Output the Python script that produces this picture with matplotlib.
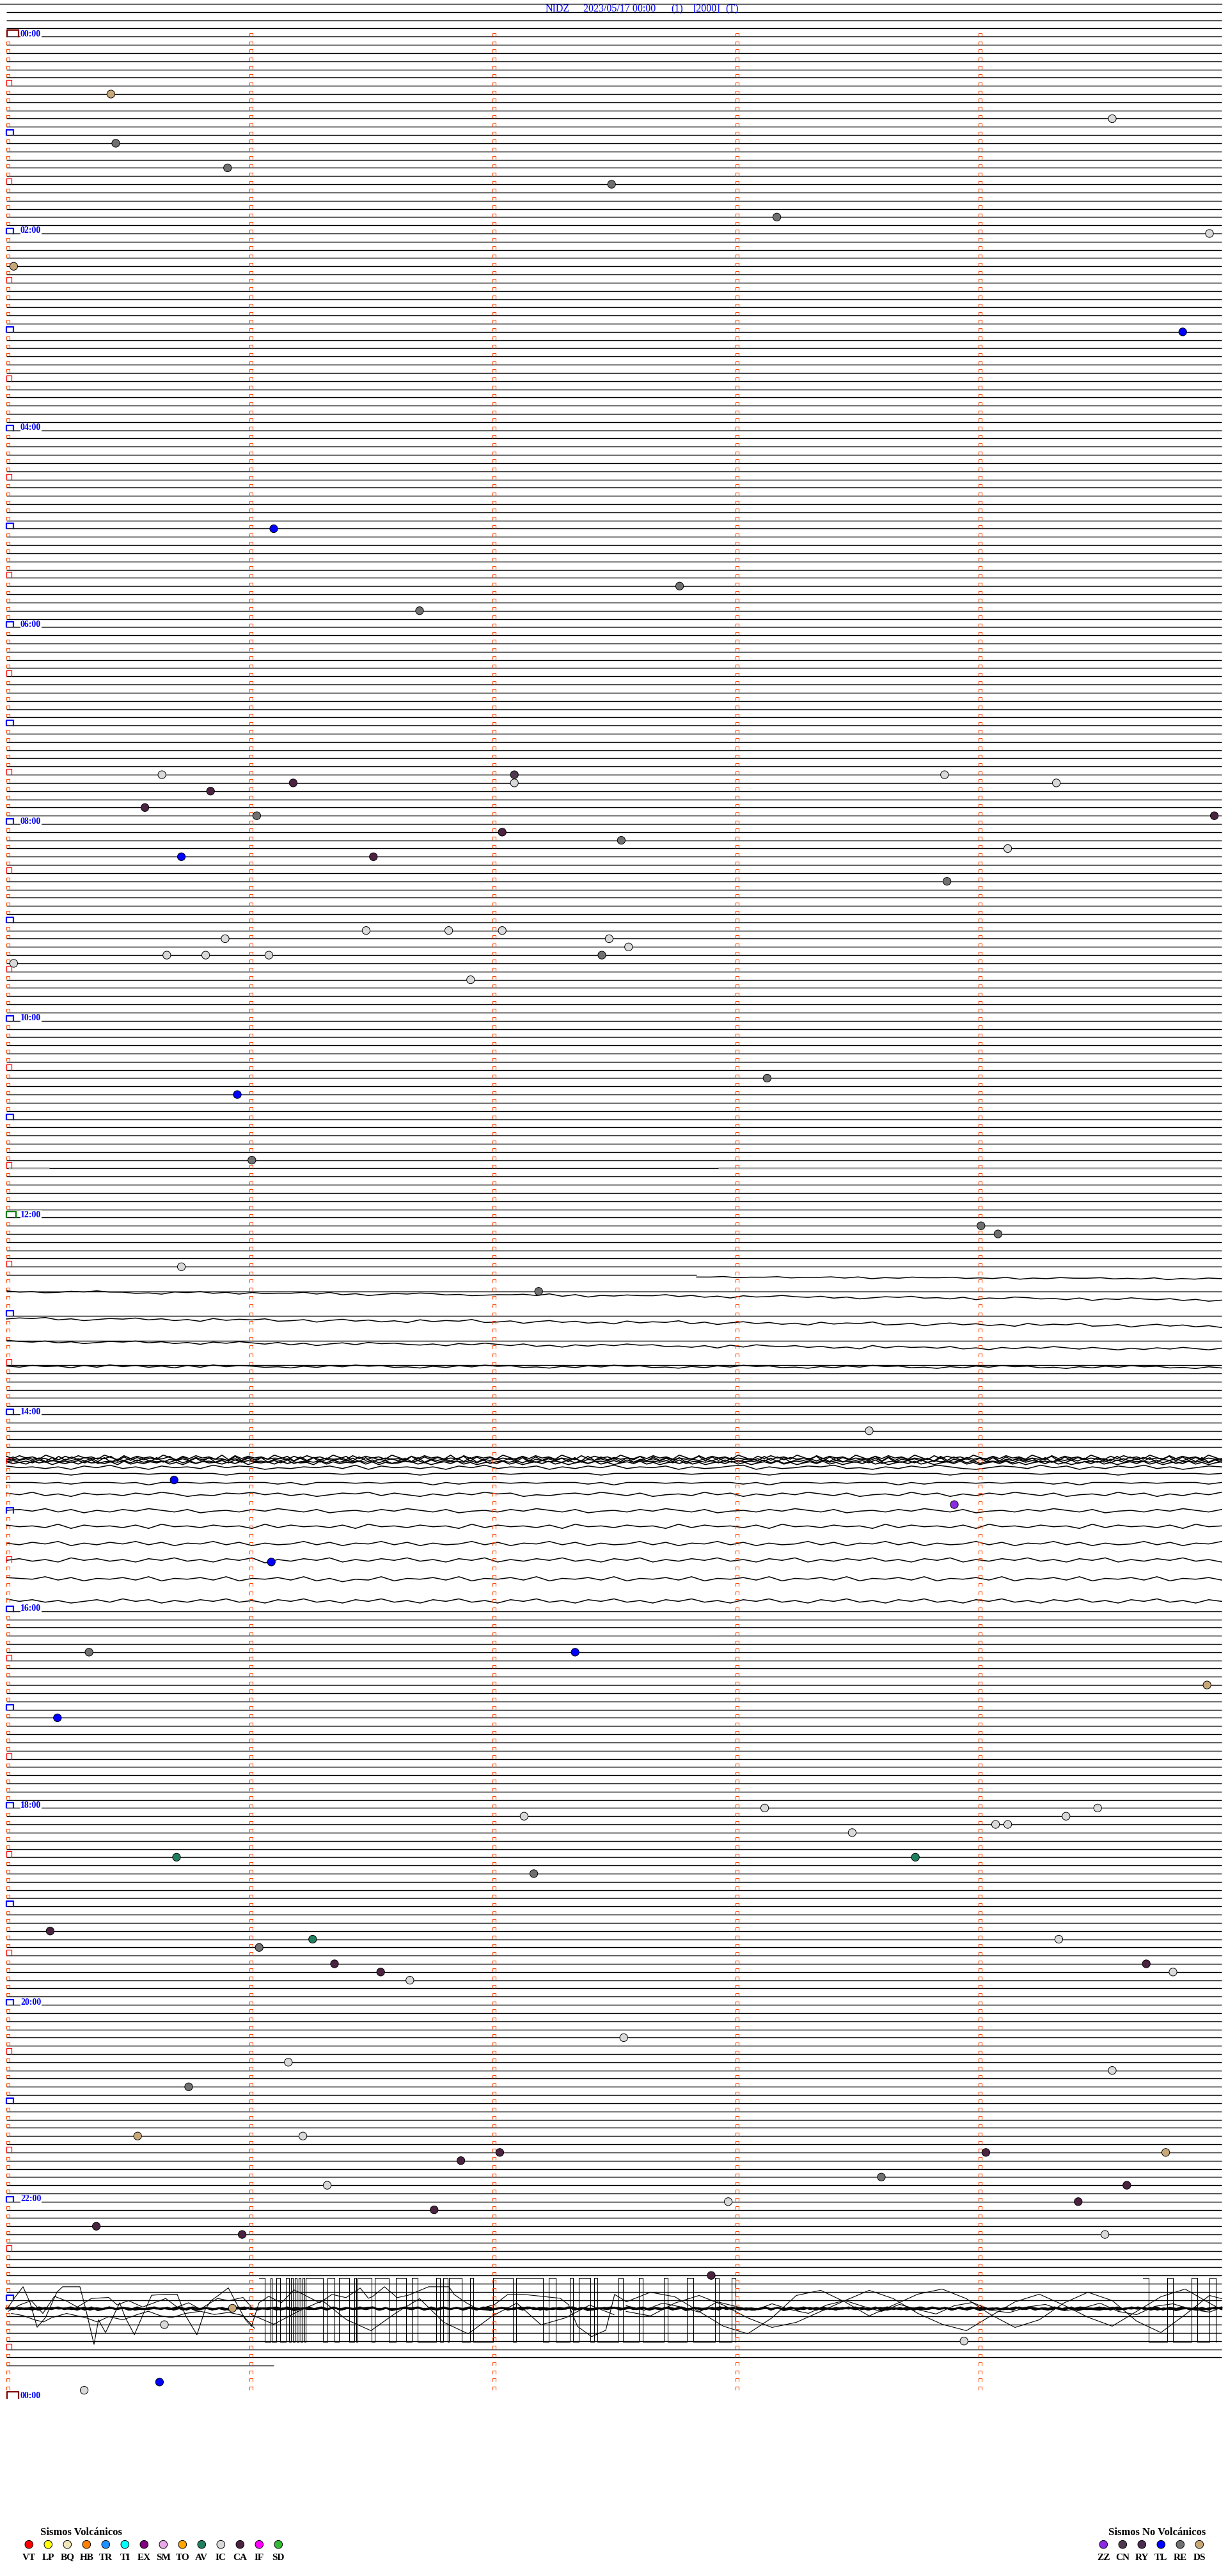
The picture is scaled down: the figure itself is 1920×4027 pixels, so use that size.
import numpy as np
import matplotlib
matplotlib.use("Agg")
import matplotlib.pyplot as plt
from matplotlib.collections import LineCollection

# ---------------- data ----------------
station = "NIDZ"
date_str = "2023/05/17 00:00"
title_extra = ["(1)", "[2000]", "(T)"]
hour_labels = ["00:00", "02:00", "04:00", "06:00", "08:00", "10:00",
               "12:00", "14:00", "16:00", "18:00", "20:00", "22:00", "00:00"]
minutes_per_row = 5
data_end_min = 1421.1

volc_title = "Sismos Volcánicos"
volc_codes = ["VT", "LP", "BQ", "HB", "TR", "TI", "EX", "SM", "TO", "AV", "IC", "CA", "IF", "SD"]
volc_colors = ["#FF0000", "#FFFF00", "#F2E6B8", "#FF8000", "#1E90FF", "#00FFFF", "#800080",
               "#E8A8E8", "#FFA500", "#1F7F5F", "#D9D9D9", "#4B2240", "#FF00FF", "#33BB33"]
nov_title = "Sismos No Volcánicos"
nov_codes = ["ZZ", "CN", "RY", "TL", "RE", "DS"]
nov_colors = ["#8A2BE2", "#503850", "#4B2D4F", "#0000FF", "#707070", "#C8A878"]

# event times (minutes after 00:00) and types
ev_min = [35.43, 54.55, 65.45, 80.91, 92.49, 113.17, 124.95, 140.03, 184.84, 301.10,
          337.77, 351.70, 450.64, 452.09, 453.86, 456.18, 457.09, 459.32, 460.84, 470.57,
          476.03, 479.97, 487.04, 492.53, 499.12, 500.72, 501.51, 518.87, 546.48, 546.82,
          547.04, 550.90, 552.48, 557.56, 560.66, 560.82, 561.08, 562.45, 565.03, 576.91,
          638.13, 645.95, 686.01, 729.01, 734.08, 750.72, 767.19, 853.55, 880.69, 898.90,
          931.09, 985.34, 987.34, 1009.94, 1025.21, 1087.13, 1083.12, 1084.49, 1094.07, 1094.12,
          1089.36, 1098.48, 1110.70, 1113.74, 1122.17, 1155.18, 1161.26, 1164.33, 1166.04, 1176.35,
          1179.69, 1181.54, 1184.80, 1186.66, 1222.54, 1236.16, 1244.55, 1250.75, 1280.54, 1281.22,
          1292.03, 1294.03, 1294.77, 1296.87, 1308.60, 1314.61, 1311.32, 1322.97, 1324.41, 1326.76,
          1335.37, 1340.97, 1344.52, 1367.90, 1385.93, 1395.65, 1408.94, 1430.63, 1435.32]
ev_type = ["DS", "IC", "RE", "RE", "RE", "RE", "IC", "DS", "TL", "TL",
           "RE", "RE", "IC", "CN", "IC", "CA", "IC", "IC", "CA", "CA",
           "RE", "CA", "CA", "RE", "IC", "TL", "CA", "RE", "IC", "IC",
           "IC", "IC", "IC", "IC", "IC", "IC", "IC", "RE", "IC", "IC",
           "RE", "TL", "RE", "RE", "RE", "IC", "RE", "IC", "TL", "ZZ",
           "TL", "RE", "TL", "DS", "TL", "IC", "IC", "IC", "IC", "IC",
           "IC", "IC", "AV", "AV", "RE", "CA", "AV", "IC", "RE", "CA",
           "CA", "CA", "IC", "IC", "IC", "IC", "IC", "RE", "DS", "IC",
           "CA", "CA", "DS", "CA", "RE", "CA", "IC", "IC", "CA", "CA",
           "CA", "CA", "IC", "CA", "DS", "IC", "IC", "TL", "IC"]

# rows (5-min slots) without a flat trace line
missing_rows = [152, 154, 155, 157, 158, 160, 161] + list(range(173, 192))
row151_flat_end = 0.568
# grey (gap) segments: (row, frac start, frac end)
gap_segments = [(138, 0.0016, 0.0353), (138, 0.586, 1.0), (195, 0.407, 0.586)]

# wavy traces: (row at start, row at end, frac start, frac end, amplitude digits)
wavy_A = [
    (151.25, 151.45, 0.568, 1.0, "5546554655464756455465647564554656475645"),
    (153.0, 154.0, 0.0, 1.0, "46576453557684536474655363758645346576554637485645536475846535647586453657485634657485635647586"),
    (156.3, 157.2, 0.0, 1.0, "64537586453647583645376485364758364527648536475836452748536475836452764853647583645276485364758"),
    (159.1, 160.0, 0.0, 1.0, "35647586453647584635748596473546758463574869574635476859473564758693746574869574635746857463574"),
    (162.1, 162.2, 0.0, 1.0, "57465847364758473645768574635476857463547685746354768574635476857463547685746354768574635476857"),
]
wavy_B = [
    (174.4, 174.4, "46575846375846573645867564738465758463756485746375648576438576453768574635786457364857463758645"),
    (175.2, 175.2, "55555755555655555755555555655555755555565555557555555655555755555556555557555555655555755555565"),
    (176.3, 176.3, "55565755565855565655575855565655585755565655575855565655575855565655585755565655575855565655575"),
    (177.7, 177.7, "46375846574635867453647586453746857463548675463574865736485746357486573648574635748657364857463"),
    (179.7, 179.7, "54637485746357486574635748657463574865746357486574635748657463574865746357486574635748657463574"),
    (181.6, 181.6, "46573846574836574658374657483657465837465748365746583746574836574658374657483657465837465748365"),
    (183.7, 183.7, "57463857463748563748576374856374857637485637485763748563748576374856374857637485637485763748563"),
    (185.7, 185.7, "64758364758463758463957463857463758463857463758463857463758463857463758463857463758463857463758"),
    (188.0, 188.0, "45637485647385647385647385967385647385647385647385647385647385647385647385647385647385647385647"),
    (190.7, 190.7, "36475864736485746375846375846375846375846375846375846375846375846375846375846375846375846375846"),
]
dense_rows = [173.25, 173.4, 173.55, 173.7, 173.85]
dense_B = ["3726481593726481592736481593726481927364815937264815927364815937264819273648159372648159273648159372648159273648159372648159273648159372648159273648159372648159273648159372648159273648159",
           "8273645918273645192837465192837465918273645192837465192837465918273645192837465192837465918273645192837465192837465918273645192837465192837465918273645192837465192837465918273645192837465",
           "5463728194637281946372819463728194637281946372819463728194637281946372819463728194637281946372819463728194637281946372819463728194637281946372819463728194637281946372819463728194637281946",
           "6475837465748396574837465738496574837465748396574837465738496574837465748396574837465738496574837465748396574837465738496574837465748396574837465738496574837465748396574837465738496574837",
           "4758364957483657493857463859473658473956483746593847563849576348596473859647385964738596473859647385964738596473859647385964738596473859647385964738596473859647385964738596473859647385964"]

# 23:00 disturbance (row 277 as reference); x as fraction of row, y offset in px
band_row = 277
band_C = ["4657584637584657364586756473846575846375648574637564857643857645376857463578645736485746375864546575846375846573645867564738465758463756485746375648576438576453768574635786457364857463758645",
          "5746385746374856374857637485637485763748563748576374856374857637485637485763748563748576374856357463857463748563748576374856374857637485637485763748563748576374856374857637485637485763748563",
          "6475837465748396574837465738496574837465748396574837465738496574837465748396574837465738496574837465748396574837465738496574837465748396574837465738496574837465748396574837465738496574837"]
swing_C = [
    ([0.0005, 0.0063, 0.0137, 0.0195, 0.0253, 0.0321, 0.0416, 0.0463, 0.0605, 0.0653, 0.0721, 0.0758,
      0.0816, 0.0932, 0.0979, 0.1053, 0.1121, 0.1195, 0.1311, 0.1405, 0.1474, 0.1568, 0.1637, 0.1684,
      0.1758, 0.1826, 0.1900, 0.1968, 0.2016],
     [1.4, -15.3, -33.6, -8.6, 29.7, 14.7, -25.3, -33.6, -33.6, 1.4, 56.4, 18.1, 38.1, -8.6, 14.7,
      41.4, 11.4, -20.3, -21.9, -21.9, 11.4, 41.4, 1.4, -11.9, -21.9, -31.9, -5.3, 18.1, 28.1]),
    ([0.0016, 0.0111, 0.0205, 0.0300, 0.0395, 0.0489, 0.0584, 0.0700, 0.0842, 0.0911, 0.1005, 0.1121,
      0.1216, 0.1311, 0.1405, 0.1500, 0.1595, 0.1737, 0.1832, 0.1947, 0.2016],
     [4.7, -5.3, -11.9, 8.1, -18.6, -11.9, -1.9, -15.3, -16.9, -5.3, -11.9, -1.9, -8.6, -15.3, -1.9,
      -8.6, 1.4, -15.3, -11.9, -16.9, -1.9]),
    ([0.0042, 0.0137, 0.0232, 0.0305, 0.0374, 0.0495, 0.0653, 0.0747, 0.0842, 0.0958, 0.1079, 0.1168,
      0.1263, 0.1358, 0.1474, 0.1595, 0.1711, 0.1832, 0.1947, 0.2042],
     [8.1, 11.4, 18.1, 21.4, 14.7, 8.1, 14.7, 21.4, 13.1, 18.1, 9.7, 4.7, 11.4, 14.7, 8.1, 4.7, 9.7,
      6.4, 11.4, 31.4]),
    ([0.2016, 0.2079, 0.2158, 0.2263, 0.2368, 0.2474, 0.2579, 0.2679, 0.2795, 0.2911, 0.2979, 0.3016,
      0.3111, 0.3216, 0.3311, 0.3474, 0.3642, 0.3684, 0.3784, 0.3879, 0.4016, 0.4126, 0.4258, 0.4558,
      0.4626, 0.4700, 0.4816, 0.4932, 0.5005, 0.5100],
     [28.4, -8.6, -18.6, -8.6, -28.6, -18.6, -8.6, -21.6, -16.6, -31.6, -15.6, -18.6, -33.6, -16.6,
      -20.6, -33.6, -33.6, -21.6, -8.6, 1.4, -5.6, -21.6, -21.6, -15.6, -5.6, 28.4, 44.4, 34.4, -21.6, -10.6]),
    ([0.2016, 0.2200, 0.2400, 0.2600, 0.2800, 0.3000, 0.3200, 0.3400, 0.3600, 0.3800, 0.4000, 0.4200,
      0.4400, 0.4600, 0.4800, 0.5000],
     [10, 25, 5, -12, 18, 35, 8, -15, 22, 40, 12, -8, 26, 15, -5, 10]),
    ([0.51, 0.53, 0.55, 0.57, 0.59, 0.61, 0.63, 0.65, 0.67, 0.69, 0.71, 0.73, 0.75, 0.77, 0.79,
      0.81, 0.83, 0.85, 0.87, 0.89, 0.91, 0.93, 0.95, 0.97, 0.99, 1.0],
     [-10, -25, -18, 5, 28, 40, 15, -20, -28, -10, 12, -5, -22, -30, -15, 10, 30, 18, -8, -25, -12,
      20, 38, 10, -20, -15]),
    ([0.51, 0.53, 0.55, 0.57, 0.59, 0.61, 0.63, 0.65, 0.67, 0.69, 0.71, 0.73, 0.75, 0.77, 0.79,
      0.81, 0.83, 0.85, 0.87, 0.89, 0.91, 0.93, 0.95, 0.97, 0.99, 1.0],
     [5, 12, -8, -20, -5, 15, 30, 22, 5, -12, -28, -15, 8, 25, 35, 12, -10, -22, -5, 14, 28, 5, -18,
      -30, -8, 2]),
    ([0.51, 0.525, 0.54, 0.555, 0.57, 0.585, 0.60, 0.615, 0.63, 0.645, 0.66, 0.675, 0.69, 0.705,
      0.72, 0.735, 0.75, 0.765, 0.78, 0.795, 0.81, 0.825, 0.84, 0.855, 0.87, 0.885, 0.90, 0.915,
      0.93, 0.945, 0.96, 0.975, 0.99, 1.0],
     [-4, 3, -8, -2, 6, -10, -3, 4, -7, 2, 8, -5, -12, -3, 5, -6, 2, 9, -4, -9, 3, 7, -2, -6, 4, 0,
      -8, 5, 10, -3, -7, 2, 6, -1]),
]
clip_edges_C = [
    [0.2079, 0.2126, 0.2174, 0.2184, 0.2221, 0.2253, 0.2300, 0.2326, 0.2342, 0.2358,
     0.2374, 0.2389, 0.2405, 0.2421, 0.2437, 0.2453, 0.2463, 0.2605, 0.2642, 0.2700,
     0.2737, 0.2821, 0.2863, 0.2879, 0.2889, 0.3005, 0.3032, 0.3147, 0.3205, 0.3289,
     0.3337, 0.3384, 0.3537, 0.3568, 0.3595, 0.3632, 0.3642, 0.3747, 0.3816, 0.3842,
     0.4005, 0.4168, 0.4195, 0.4416, 0.4463, 0.4521, 0.4637, 0.4663, 0.4711, 0.4805,
     0.4837, 0.4863, 0.5037, 0.5074, 0.5205, 0.5237, 0.5411, 0.5442, 0.5600, 0.5653,
     0.5832, 0.5863, 0.5968, 0.6000],
    [0.9350, 0.9400, 0.9550, 0.9600, 0.9750, 0.9800, 0.9900, 0.9950],
]

# ---------------- layout ----------------
W, H = 1920, 4027
Y0, DY = 57.3, 12.82
X0, X1 = 10.0, 1910.0
tick_x = [X0 + i * (X1 - X0) / 5 for i in range(5)]


def ry(k):
    return Y0 + DY * k


def fx(f):
    return X0 + f * (X1 - X0)


plt.rcParams['font.family'] = ['Liberation Serif', 'DejaVu Serif']
fig = plt.figure(figsize=(W / 100, H / 100), dpi=100)
ax = fig.add_axes([0, 0, 1, 1])
ax.set_xlim(0, W)
ax.set_ylim(H, 0)
ax.axis('off')

LW = 1.0
ax.plot([0, X1], [6, 6], color='black', lw=LW)
last_row = int(data_end_min // minutes_per_row)
segs = []
for k in range(-3, last_row + 1):
    if k in missing_rows:
        continue
    xe = X1
    if k == 151:
        xe = fx(row151_flat_end)
    if k == last_row:
        xe = fx((data_end_min - k * minutes_per_row) / minutes_per_row)
    segs.append([(X0, ry(k)), (xe, ry(k))])
ax.add_collection(LineCollection(segs, colors='black', linewidths=LW, zorder=2))
for k, f0, f1 in gap_segments:
    ax.plot([fx(f0), fx(f1)], [ry(k), ry(k)], color='#A8A8A8', lw=2.0, zorder=2.5,
            solid_capstyle='butt')


def digits_trace(r0, r1, f0, f1, s, amp, lw=0.9):
    v = np.array([int(c) for c in s], dtype=float) - 5
    n = len(v)
    xs = np.linspace(fx(f0), fx(f1), n)
    ys = np.linspace(ry(r0), ry(r1), n) + v * amp
    ax.plot(xs, ys, color='black', lw=lw, zorder=2)


for r0, r1, f0, f1, s in wavy_A:
    digits_trace(r0, r1, f0, f1, s, 0.9, 1.1)
for r0, r1, s in wavy_B:
    digits_trace(r0, r1, 0.0, 1.0, s, 1.3, 1.1)
for r, s in zip(dense_rows, dense_B):
    digits_trace(r, r, 0.0, 1.0, s, 0.9, 1.2)
for s in band_C:
    digits_trace(band_row, band_row, 0.0, 1.0, s, 0.8, 1.8)
for xs_f, offs in swing_C:
    ax.plot([fx(f) for f in xs_f], [ry(band_row) + o for o in offs], color='black', lw=0.8, zorder=2)
lev = [ry(band_row) - 47, ry(band_row) + 52.5]
for edges in clip_edges_C:
    ex = [fx(f) for f in edges]
    ey = [lev[i % 2] for i in range(len(ex))]
    ax.step(ex, ey, where='post', color='black', lw=0.8, zorder=2)

# minute markers
small = []
for k in range(0, 288):
    y = ry(k)
    for i, x in enumerate(tick_x):
        if i == 0 and k % 6 == 0:
            continue
        small.append([(x, y - 0.5), (x, y - 5.5), (x + 5, y - 5.5), (x + 5, y - 0.5)])
ax.add_collection(LineCollection(small, colors='#FF4500', linewidths=0.8, zorder=3))
for k in range(0, 289, 6):
    y = ry(k)
    if k % 12 == 6:
        ax.plot([X0, X0, X0 + 8, X0 + 8], [y, y - 9, y - 9, y], color='#FF0000', lw=0.9, zorder=3)
    elif k in (0, 288):
        ax.plot([X0 + 0.5, X0 + 0.5, X0 + 19, X0 + 19], [y, y - 10.5, y - 10.5, y], color='#800000', lw=1.6, zorder=3)
    elif k == 144:
        ax.plot([X0, X0, X0 + 15, X0 + 15], [y, y - 9.5, y - 9.5, y], color='#008000', lw=1.6, zorder=3)
    else:
        ax.plot([X0, X0, X0 + 11, X0 + 11], [y, y - 8, y - 8, y], color='#0000FF', lw=1.6, zorder=3)
for j, lab in enumerate(hour_labels):
    y = ry(24 * j)
    ax.text(32, y - 0.5, lab, color='#0000FF', fontsize=10, fontweight='bold', ha='left', va='baseline',
            zorder=4, bbox=dict(facecolor='white', edgecolor='none', pad=0.3))

# title
tx = [853, 912, 1049, 1084, 1134]
for x, s in zip(tx, [station, date_str] + title_extra):
    ax.text(x, 18.5, s, color='#0000FF', fontsize=11.5, ha='left', va='baseline', zorder=4)

# events
cmap = dict(zip(volc_codes + nov_codes, volc_colors + nov_colors))
ex_, ey_, ec_ = [], [], []
for t, ty in zip(ev_min, ev_type):
    k = int(t // minutes_per_row)
    ex_.append(fx((t - k * minutes_per_row) / minutes_per_row))
    ey_.append(ry(k))
    ec_.append(cmap[ty])
ax.scatter(ex_, ey_, s=78, c=ec_, edgecolors='black', linewidths=0.7, zorder=5)

# legends
ax.text(63, 3963, volc_title, fontsize=12, fontweight='bold', ha='left', va='baseline')
lx = [45.3 + 30 * i for i in range(len(volc_codes))]
ax.scatter(lx, [3977.7] * len(lx), s=82, c=volc_colors, edgecolors='black', linewidths=0.7, zorder=5)
for x, c in zip(lx, volc_codes):
    ax.text(x, 4001.5, c, fontsize=11, fontweight='bold', ha='center', va='baseline')
ax.text(1733, 3963, nov_title, fontsize=12, fontweight='bold', ha='left', va='baseline')
nx = [1725.3 + 30 * i for i in range(len(nov_codes))]
ax.scatter(nx, [3977.7] * len(nx), s=82, c=nov_colors, edgecolors='black', linewidths=0.7, zorder=5)
for x, c in zip(nx, nov_codes):
    ax.text(x, 4001.5, c, fontsize=11, fontweight='bold', ha='center', va='baseline')

fig.savefig("out.png", dpi=100, facecolor='white')
